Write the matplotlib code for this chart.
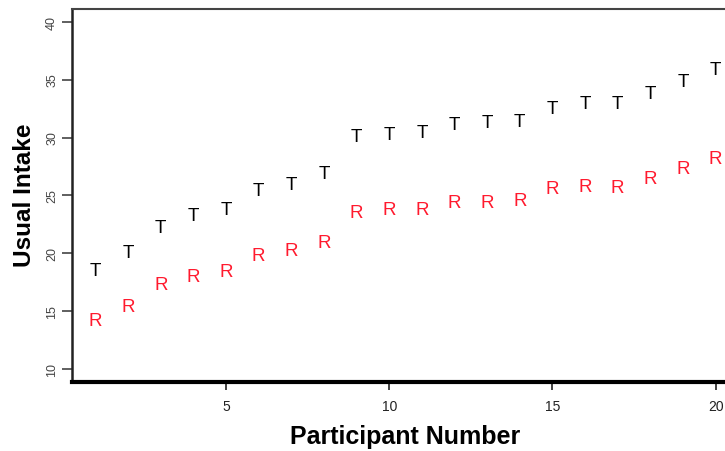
import matplotlib.pyplot as plt

# Valores
participantes = list(range(1, 21))
ingesta_t = [18.5, 20.1, 22.2, 23.3, 23.8, 25.4, 25.9, 26.9, 30.1, 30.3,
             30.4, 31.1, 31.3, 31.4, 32.5, 32.9, 32.9, 33.8, 34.8, 35.9]
ingesta_r = [14.2, 15.4, 17.3, 18.0, 18.4, 19.8, 20.2, 20.9, 23.5, 23.8,
             23.8, 24.4, 24.4, 24.6, 25.6, 25.8, 25.7, 26.5, 27.3, 28.2]

x_ticks = [5, 10, 15, 20]
y_ticks = [10, 15, 20, 25, 30, 35, 40]

plt.rcParams["font.family"] = ["Liberation Sans", "DejaVu Sans"]

fig = plt.figure(figsize=(7.25, 4.52), dpi=100)
# el eje derecho queda recortado en la imagen original
ax = fig.add_axes([72 / 725, 1 - 383 / 452, (745 - 72) / 725, (383 - 10) / 452])

for x, yt, yr in zip(participantes, ingesta_t, ingesta_r):
    ax.text(x, yt, "T", color="black", fontsize=13.5, ha="center", va="center")
    ax.text(x, yr, "R", color="#ff1a2e", fontsize=13.5, ha="center", va="center")

ax.set_xlim(0.28, 20.9)
ax.set_ylim(8.88, 41.1)
ax.set_xticks(x_ticks)
ax.set_yticks(y_ticks)
ax.tick_params(axis="x", labelsize=10, length=6, width=1.2, colors="#222222", pad=6)
ax.tick_params(axis="y", labelsize=9, length=7, width=1.2, colors="#444444",
               labelrotation=90, pad=3)
for lab in ax.get_yticklabels():
    lab.set_va("center")

ax.spines["right"].set_visible(False)
ax.spines["top"].set_color("#444444")
ax.spines["top"].set_linewidth(1.5)
ax.spines["left"].set_color("#222222")
ax.spines["left"].set_linewidth(1.8)
ax.spines["bottom"].set_color("black")
ax.spines["bottom"].set_linewidth(3)

fig.text(405 / 725, 1 - 437 / 452, "Participant Number", fontsize=18,
         fontweight="bold", ha="center", va="center")
fig.text(25 / 725, 1 - 195 / 452, "Usual Intake", fontsize=17.5,
         fontweight="bold", ha="center", va="center", rotation=90)

fig.savefig("out.png", dpi=100)
